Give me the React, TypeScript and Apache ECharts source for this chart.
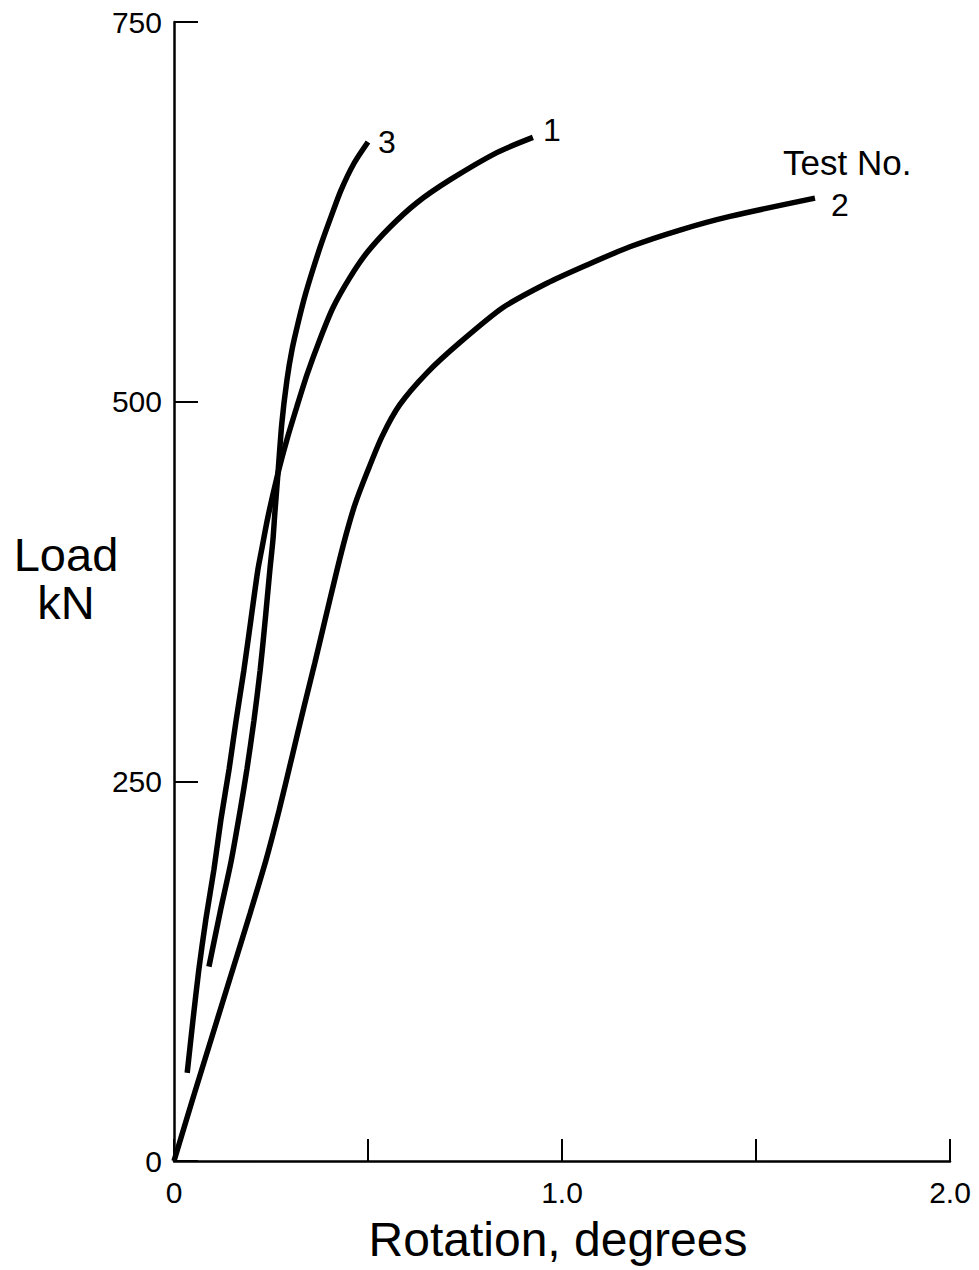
import React, { useEffect, useRef } from "react";
import * as echarts from "echarts";

// Test 1
const rotation1 = [0.034, 0.049, 0.064, 0.082, 0.103, 0.121, 0.142, 0.16, 0.18, 0.198, 0.216, 0.227, 0.242, 0.268, 0.291, 0.317, 0.343, 0.376, 0.41, 0.454, 0.497, 0.557, 0.626, 0.711, 0.832, 0.925];
const load1 = [58, 93, 126, 159, 192, 225, 258, 290, 323, 356, 389, 404, 424, 453, 475, 497, 518, 541, 562, 582, 598, 615, 631, 646, 664, 674];
// Test 2
const rotation2 = [0, 0.049, 0.098, 0.147, 0.196, 0.237, 0.271, 0.304, 0.335, 0.363, 0.389, 0.42, 0.443, 0.466, 0.497, 0.536, 0.582, 0.652, 0.737, 0.848, 0.961, 1.064, 1.175, 1.304, 1.433, 1.652];
const load2 = [0, 41.5, 82, 122.5, 163, 198, 231, 266, 299, 328, 356, 389, 412, 432, 453, 477, 498, 519, 539, 562, 578, 590, 602, 613, 622, 634];
// Test 3
const rotation3 = [0.09, 0.119, 0.147, 0.17, 0.188, 0.206, 0.222, 0.235, 0.247, 0.255, 0.26, 0.268, 0.278, 0.291, 0.304, 0.32, 0.338, 0.358, 0.381, 0.405, 0.43, 0.464, 0.5];
const load3 = [128, 164, 197, 230, 258, 290, 323, 356, 389, 409, 427, 453, 486, 514, 534, 552, 570, 587, 605, 622, 639, 657, 671];

const testNames = ["1", "2", "3"];
const xTickLabels: Record<string, string> = { "0": "0", "1": "1.0", "2": "2.0" };

const FONT = "'Liberation Sans', Arial, Helvetica, sans-serif";

const zip = (xs: number[], ys: number[]) => xs.map((x, i) => [x, ys[i]]);

export default function App() {
  const ref = useRef<HTMLDivElement>(null);
  useEffect(() => {
    const chart = echarts.init(ref.current!, null, { renderer: "svg" });
    const seriesData = [zip(rotation1, load1), zip(rotation2, load2), zip(rotation3, load3)];
    const labelOffsets = [[0, -7], [6, 7], [0, 0]];
    chart.setOption({
      animation: false,
      backgroundColor: "#ffffff",
      grid: { left: 174, top: 22, width: 776, height: 1139 },
      xAxis: {
        type: "value",
        min: 0,
        max: 2,
        interval: 0.5,
        name: "Rotation, degrees",
        nameLocation: "middle",
        nameGap: 54,
        nameTextStyle: { fontSize: 48, color: "#000", fontFamily: FONT, padding: [0, 8, 0, 0] },
        axisLine: { show: true, lineStyle: { color: "#000", width: 2.5 } },
        axisTick: { show: true, inside: true, length: 22, lineStyle: { color: "#000", width: 2 } },
        axisLabel: {
          fontSize: 30,
          color: "#000",
          fontFamily: FONT,
          margin: 16,
          formatter: (v: number) => xTickLabels[String(v)] ?? "",
        },
        splitLine: { show: false },
      },
      yAxis: {
        type: "value",
        min: 0,
        max: 750,
        interval: 250,
        axisLine: { show: true, lineStyle: { color: "#000", width: 2.5 } },
        axisTick: { show: true, inside: true, length: 24, lineStyle: { color: "#000", width: 2 } },
        axisLabel: { fontSize: 30, color: "#000", fontFamily: FONT, margin: 12 },
        splitLine: { show: false },
      },
      graphic: [
        {
          type: "text",
          x: 66,
          y: 530,
          style: {
            text: "Load\nkN",
            fontSize: 47,
            lineHeight: 48,
            fill: "#000",
            fontFamily: FONT,
            textAlign: "center",
            textVerticalAlign: "top",
          },
        },
        {
          type: "text",
          left: 783,
          top: 145,
          style: { text: "Test No.", fontSize: 35, fill: "#000", fontFamily: FONT },
        },
      ],
      series: seriesData.map((d, i) => ({
        type: "line",
        name: testNames[i],
        data: d,
        smooth: 0.25,
        showSymbol: false,
        symbol: "none",
        lineStyle: { color: "#000", width: 5.5, cap: "butt" },
        endLabel: {
          show: true,
          formatter: "{a}",
          fontSize: 32,
          color: "#000",
          fontFamily: FONT,
          distance: 10,
          offset: labelOffsets[i],
        },
      })),
    });
    return () => chart.dispose();
  }, []);
  return (
    <div
      ref={ref}
      style={{ position: "absolute", left: 0, top: 0, width: 979, height: 1270 }}
    />
  );
}
